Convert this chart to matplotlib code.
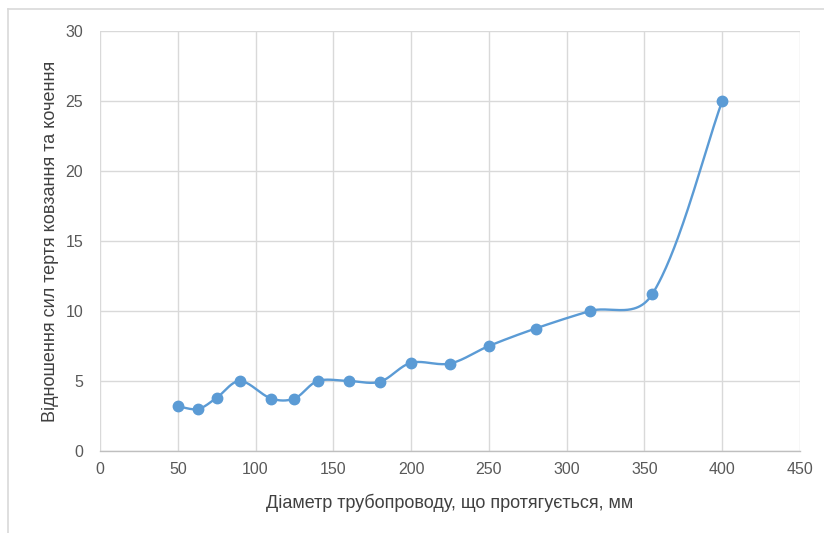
import numpy as np
import matplotlib
matplotlib.use("Agg")
import matplotlib.pyplot as plt
from matplotlib.lines import Line2D

# Pipe diameter (mm) and ratio of sliding to rolling friction forces
diameters = [50, 63, 75, 90, 110, 125, 140, 160, 180, 200, 225, 250, 280, 315, 355, 400]
ratios = [3.2, 3.0, 3.8, 5.0, 3.75, 3.75, 5.0, 5.0, 4.95, 6.3, 6.25, 7.5, 8.75, 10.0, 11.2, 25.0]

x_ticks = [0, 50, 100, 150, 200, 250, 300, 350, 400, 450]
y_ticks = [0, 5, 10, 15, 20, 25, 30]

LINE_COLOR = "#5b9bd5"
GRID_COLOR = "#d9d9d9"
TEXT_COLOR = "#595959"

plt.rcParams["font.family"] = ["Liberation Sans", "DejaVu Sans"]

W, H = 824, 533
AX_W, AX_H = 700, 420
X_MAX, Y_MAX = 450, 30


def smooth_curve(xs, ys, sx, sy, n=60):
    """Bezier smoothing; control distances blend a plain Catmull-Rom
    tangent with one scaled by neighbouring segment lengths (screen space)."""
    pts = np.column_stack([np.asarray(xs, float) * sx, np.asarray(ys, float) * sy])
    out = []
    for i in range(len(pts) - 1):
        p0 = pts[i - 1] if i > 0 else pts[i]
        p1 = pts[i]
        p2 = pts[i + 1]
        p3 = pts[i + 2] if i + 2 < len(pts) else pts[i + 1]
        d01 = np.linalg.norm(p1 - p0)
        d12 = np.linalg.norm(p2 - p1)
        d23 = np.linalg.norm(p3 - p2)
        k1 = 0.5 / 6.0 + 0.5 * (d12 / (d01 + d12)) / 3.0
        k2 = 0.5 / 6.0 + 0.5 * (d12 / (d12 + d23)) / 3.0
        c1 = p1 + (p2 - p0) * k1
        c2 = p2 - (p3 - p1) * k2
        t = np.linspace(0, 1, n)[:, None]
        seg = ((1 - t) ** 3) * p1 + 3 * ((1 - t) ** 2) * t * c1 + 3 * (1 - t) * t ** 2 * c2 + t ** 3 * p2
        out.append(seg if i == 0 else seg[1:])
    out = np.vstack(out)
    return out[:, 0] / sx, out[:, 1] / sy


fig = plt.figure(figsize=(W / 100, H / 100), dpi=100)
ax = fig.add_axes([100 / W, (H - 451) / H, AX_W / W, AX_H / H])

cx, cy = smooth_curve(diameters, ratios, AX_W / X_MAX, AX_H / Y_MAX)
ax.plot(cx, cy, color=LINE_COLOR, lw=1.7, solid_capstyle="round", zorder=3)
ax.plot(diameters, ratios, "o", color=LINE_COLOR, ms=7.5, zorder=4)

ax.set_xlim(0, X_MAX)
ax.set_ylim(0, Y_MAX)
ax.set_xticks(x_ticks)
ax.set_yticks(y_ticks)
ax.grid(True, color=GRID_COLOR, lw=1.0)
ax.set_axisbelow(True)
for side in ("top", "right", "left"):
    ax.spines[side].set_visible(False)
ax.spines["bottom"].set_color("#bfbfbf")
ax.spines["bottom"].set_linewidth(1.0)
ax.tick_params(length=0, labelsize=11.5, colors=TEXT_COLOR, pad=8)
ax.tick_params(axis="y", pad=12)

ax.set_xlabel("Діаметр трубопроводу, що протягується, мм", fontsize=13, color="#404040", labelpad=12)
ax.set_ylabel("Відношення сил тертя ковзання та кочення", fontsize=13, color="#404040", labelpad=5)

# Chart frame
fig.add_artist(Line2D([8 / W, 8 / W], [0, 1 - 9 / H], transform=fig.transFigure, color=GRID_COLOR, lw=1.2))
fig.add_artist(Line2D([8 / W, 1], [1 - 9 / H, 1 - 9 / H], transform=fig.transFigure, color=GRID_COLOR, lw=1.2))

fig.savefig("out.png", dpi=100, facecolor="white")
